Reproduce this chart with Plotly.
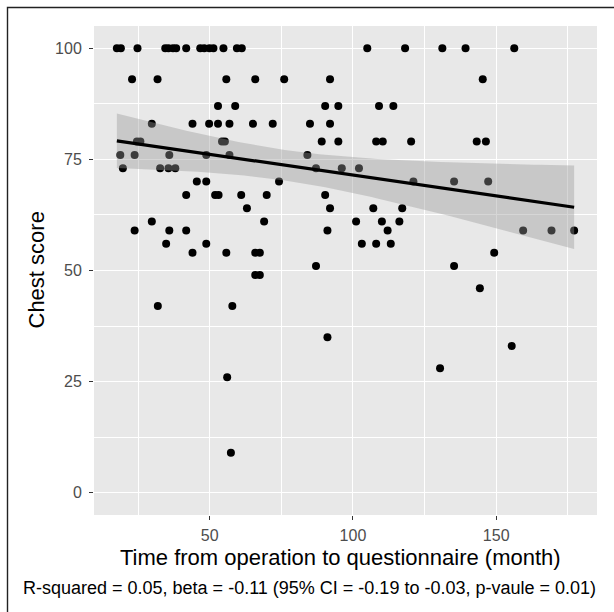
import numpy as np
import plotly.graph_objects as go

# ---- data ----
month = [
    17.6, 19.0, 24.8, 34.5, 35.6, 37.2, 38.3, 41.8, 46.7, 48.1, 49.9, 51.3, 54.8, 59.5, 61.2, 105.0, 118.2, 131.2, 139.3, 156.3,
    22.9, 31.8, 55.8, 65.9, 76.0, 92.0, 145.3,
    52.9, 58.9, 90.3, 94.9, 109.1, 114.1,
    29.8, 44.0, 49.8, 52.9, 56.9, 65.1, 72.0, 85.0, 92.0,
    24.6, 25.8, 54.3, 55.3, 89.1, 94.9, 108.1, 110.4, 120.3, 143.2, 146.4,
    18.8, 23.8, 35.9, 48.8, 56.9, 84.1,
    19.7, 32.7, 35.6, 38.0, 87.1, 96.1, 102.1,
    45.5, 48.8, 74.2, 121.1, 135.3, 147.2,
    41.8, 51.9, 53.1, 61.0, 69.9, 90.3,
    63.0, 92.0, 107.1, 117.2,
    29.8, 69.0, 101.1, 110.1, 116.2,
    23.8, 35.9, 41.8, 91.1, 112.1, 159.4, 169.3, 177.2,
    34.8, 48.8, 103.1, 108.1, 113.2,
    44.0, 55.8, 65.9, 67.5, 149.3,
    87.1, 135.3,
    65.9, 67.5,
    144.3,
    31.9, 57.9,
    91.1,
    155.4,
    130.4,
    56.1,
    57.4,
]
chest_score = (
    [100] * 20 + [93] * 7 + [87] * 6 + [83] * 9 + [79] * 11 + [76] * 6 + [73] * 7
    + [70] * 6 + [67] * 6 + [64] * 4 + [61] * 5 + [59] * 8 + [56] * 5 + [54] * 5
    + [51] * 2 + [49] * 2 + [46] + [42] * 2 + [35] + [33] + [28] + [26] + [9]
)
x_ticks = [50, 100, 150]
x_minor = [25, 75, 125, 175]
y_ticks = [0, 25, 50, 75, 100]
y_minor = [12.5, 37.5, 62.5, 87.5]
x_title = "Time from operation to questionnaire (month)"
y_title = "Chest score"
caption = "R-squared = 0.05, beta = -0.11 (95% CI = -0.19 to -0.03, p-vaule = 0.01)"

# ---- linear fit with 95% confidence band ----
x = np.array(month, dtype=float)
y = np.array(chest_score, dtype=float)
n = len(x)
b1, b0 = np.polyfit(x, y, 1)
xg = np.linspace(x.min(), x.max(), 80)
yhat = b0 + b1 * xg
resid = y - (b0 + b1 * x)
s = np.sqrt(np.sum(resid ** 2) / (n - 2))
sxx = np.sum((x - x.mean()) ** 2)
se = s * np.sqrt(1.0 / n + (xg - x.mean()) ** 2 / sxx)
tcrit = 1.981
upper = yhat + tcrit * se
lower = yhat - tcrit * se

FONT = "Liberation Sans, Arial, sans-serif"

fig = go.Figure()
fig.add_trace(go.Scatter(x=x, y=y, mode="markers",
                         marker=dict(color="black", size=8, line=dict(width=0)),
                         hoverinfo="skip", showlegend=False))
fig.add_trace(go.Scatter(x=np.concatenate([xg, xg[::-1]]),
                         y=np.concatenate([upper, lower[::-1]]),
                         mode="lines", fill="toself",
                         fillcolor="rgba(153,153,153,0.4)",
                         line=dict(width=0), hoverinfo="skip", showlegend=False))
fig.add_trace(go.Scatter(x=xg, y=yhat, mode="lines",
                         line=dict(color="black", width=3.2),
                         hoverinfo="skip", showlegend=False))

span = x.max() - x.min()
L, R, T, B = 94, 17, 26, 97
W, H = 614, 612
pw, ph = W - L - R, H - T - B


def px(v):
    return (v - L) / pw


def py(v):
    return (H - B - v) / ph


axis_common = dict(
    ticks="outside", ticklen=4, tickwidth=1.3, tickcolor="#333333",
    showgrid=True, gridcolor="white", gridwidth=1.3,
    zeroline=False, showline=False,
    tickfont=dict(family=FONT, size=16, color="#4D4D4D"),
)
fig.update_layout(
    width=W, height=H,
    margin=dict(l=L, r=R, t=T, b=B, pad=0),
    paper_bgcolor="white", plot_bgcolor="#E8E8E8",
    font=dict(family=FONT),
    xaxis=dict(range=[x.min() - 0.05 * span, x.max() + 0.05 * span],
               tickvals=x_ticks, ticktext=[str(v) for v in x_ticks],
               ticklabelstandoff=2,
               minor=dict(tickvals=x_minor, showgrid=True, gridcolor="white", gridwidth=0.6, ticks=""),
               **axis_common),
    yaxis=dict(range=[-5, 105],
               tickvals=y_ticks, ticktext=[str(v) for v in y_ticks],
               ticklabelstandoff=4,
               minor=dict(tickvals=y_minor, showgrid=True, gridcolor="white", gridwidth=0.6, ticks=""),
               **axis_common),
    annotations=[
        dict(text=y_title, textangle=-90, xref="paper", yref="paper",
             x=px(36), y=0.5, xanchor="center", yanchor="middle", showarrow=False,
             font=dict(family=FONT, size=22, color="black")),
        dict(text=x_title, xref="paper", yref="paper",
             x=px(340), y=py(557), xanchor="center", yanchor="middle", showarrow=False,
             font=dict(family=FONT, size=22, color="black")),
        dict(text=caption, xref="paper", yref="paper",
             x=px(309), y=py(588), xanchor="center", yanchor="middle", showarrow=False,
             font=dict(family=FONT, size=18, color="black")),
    ],
    shapes=[
        dict(type="path", xref="paper", yref="paper",
             path=f"M {px(7.5)},{py(612)} L {px(7.5)},{py(7.5)} L {px(614)},{py(7.5)}",
             line=dict(color="#222222", width=1.4)),
    ],
)

fig.write_html("out.html", config={"displayModeBar": False},
               post_script="document.body.style.margin='0';document.body.style.padding='0';")
